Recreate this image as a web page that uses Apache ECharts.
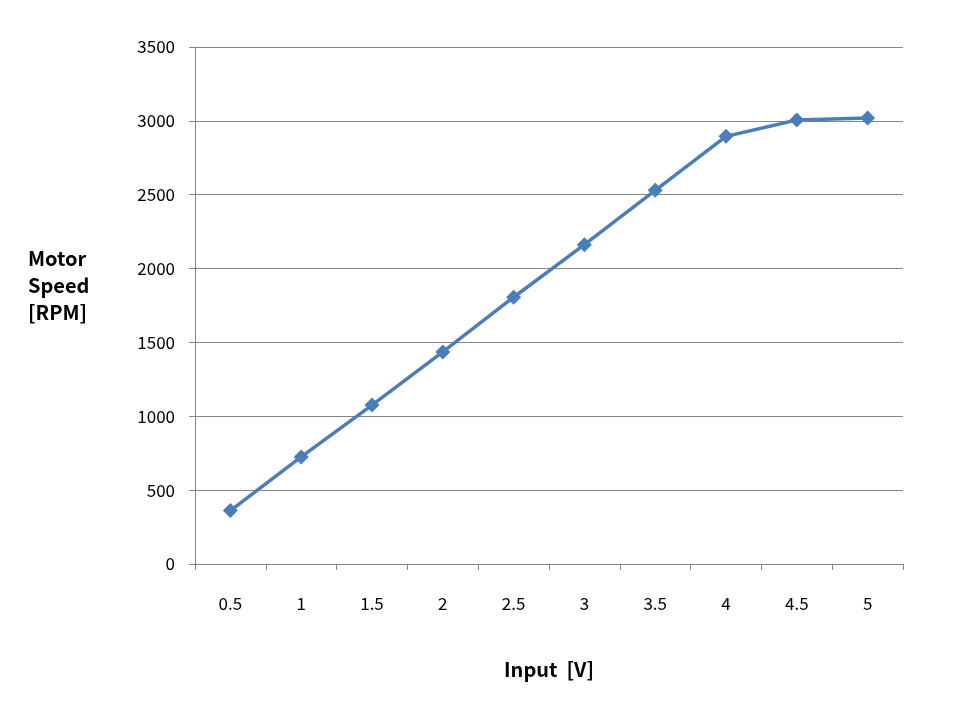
<!DOCTYPE html>
<html><head><meta charset="utf-8">
<script src="https://cdn.jsdelivr.net/npm/echarts@6/dist/echarts.min.js"></script>
<style>html,body{margin:0;padding:0;background:#fff}#c{width:959px;height:716px}</style>
</head><body><div id="c"></div>
<script>
const categories = ['0.5','1','1.5','2','2.5','3','3.5','4','4.5','5'];
const motorSpeed = [362, 725, 1076, 1436, 1806, 2162, 2530, 2895, 3006, 3020];
const yTicks = {min: 0, max: 3500, interval: 500};
const xTitle = 'Input  [V]';
const yTitle = 'Motor\nSpeed\n[RPM]';

const chart = echarts.init(document.getElementById('c'), null, {renderer: 'canvas'});
const font = '"Noto Sans CJK KR", "Open Sans", sans-serif';
chart.setOption({
  animation: false,
  backgroundColor: '#fff',
  grid: {left: 195, right: 56, top: 47, bottom: 152, containLabel: false},
  xAxis: {
    type: 'category', data: categories, boundaryGap: true,
    name: xTitle, nameLocation: 'middle', nameGap: 95,
    nameTextStyle: {fontFamily: font, fontSize: 20, fontWeight: 'bold', color: '#000'},
    axisLine: {lineStyle: {color: '#868686', width: 1}},
    axisTick: {show: true, length: 6, lineStyle: {color: '#868686'}},
    axisLabel: {fontFamily: font, fontSize: 17, color: '#000', margin: 31}
  },
  yAxis: {
    type: 'value', min: yTicks.min, max: yTicks.max, interval: yTicks.interval,
    axisLine: {show: true, lineStyle: {color: '#868686', width: 1}},
    axisTick: {show: true, length: 6, lineStyle: {color: '#868686'}},
    splitLine: {lineStyle: {color: '#868686', width: 1}},
    axisLabel: {fontFamily: font, fontSize: 17, color: '#000', margin: 20, formatter: v => String(v)}
  },
  graphic: [{
    type: 'text', left: 28, top: 245,
    style: {text: yTitle, fontFamily: font, fontSize: 20, fontWeight: 'bold', fill: '#000', lineHeight: 27, textAlign: 'left'}
  }],
  series: [{
    type: 'line', data: motorSpeed,
    lineStyle: {color: '#4a7ebb', width: 3.5},
    itemStyle: {color: '#4a7ebb'},
    symbol: 'diamond', symbolSize: 15, showSymbol: true
  }]
});
</script></body></html>
